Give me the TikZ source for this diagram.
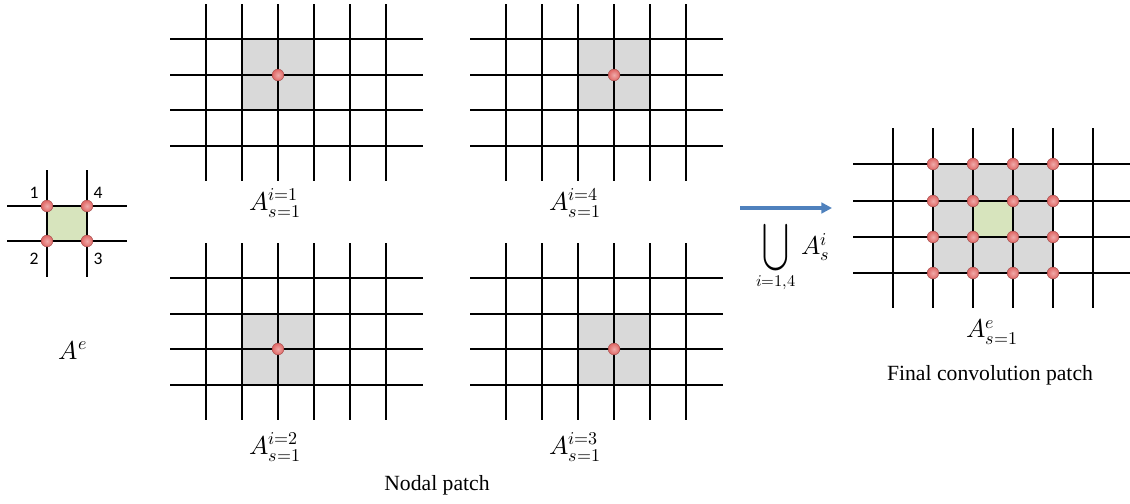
\documentclass[tikz,border=0pt]{standalone}
\usepackage{fontspec}
\usepackage{unicode-math}
\setmainfont{Liberation Serif}
\newfontfamily\numfont{Carlito}
\usepackage{tikz}
\usetikzlibrary{arrows.meta}
\definecolor{cellgray}{HTML}{D9D9D9}
\definecolor{cellgreen}{HTML}{D7E4BD}
\definecolor{dotred}{HTML}{E06664}
\definecolor{arrowblue}{HTML}{4F81BD}

\begin{document}
\begin{tikzpicture}[x=0.03cm,y=-0.03cm,
  gridline/.style={line width=1.6pt,black},
  nodedot/.style={circle,inner sep=0pt,minimum size=10pt,shading=radial,inner color=dotred!55!white,outer color=dotred,draw=dotred!75!black,line width=.4pt},
  mathlab/.style={font=\fontsize{22}{26}\selectfont},
  textlab/.style={font=\fontsize{18.5}{22}\selectfont},
  numlab/.style={font=\fontsize{15}{18}\selectfont\numfont}]
  \useasboundingbox (0,0) rectangle (1130,503);
  % single element
  \fill[cellgreen] (47,206) rectangle (87,241);
  \foreach \y in {206,241} \draw[gridline] (7,\y)--(127,\y);
  \foreach \x in {47,87} \draw[gridline] (\x,170)--(\x,277);
  \foreach \x/\y/\n in {47/206/1,87/206/4,47/241/2,87/241/3}
    \node[nodedot] (elem\n) at (\x,\y) {};
  \node[numlab] (num1) at (34,193) {1}; \node[numlab] (num4) at (98,193) {4};
  \node[numlab] (num2) at (34,259) {2}; \node[numlab] (num3) at (98,259) {3};
  \node[mathlab] (lab-e) at (73,350) {$A^{e}$};
  % nodal patches
  \foreach \px/\py/\dc/\dr/\n/\ly in {170/4/3/2/1/203,170/243/3/3/2/447,470/4/4/2/4/203,470/243/4/3/3/447}{
    \fill[cellgray] ({\px+36*\dc-36},{\py+int(35.5*\dr-35.5)}) rectangle ({\px+36*\dc+36},{\py+int(35.5*\dr+35.5)});
    \foreach \r in {1,...,4} \draw[gridline] (\px,{\py+int(35.5*\r)})--({\px+253},{\py+int(35.5*\r)});
    \foreach \c in {1,...,6} \draw[gridline] ({\px+36*\c},\py)--({\px+36*\c},{\py+177});
    \node[nodedot] (dot\n) at ({\px+36*\dc},{\py+int(35.5*\dr)}) {};
    \node[mathlab] (lab\n) at ({\px+105},\ly) {$A^{i=\n}_{s=1}$};}
  \node[textlab] (nodal) at (437,485) {Nodal patch};
  % union arrow
  \coordinate (arrowstart) at (740,208); \coordinate (arrowend) at (832,208);
  \draw[arrowblue,line width=3pt,-{Triangle[length=9pt,width=9pt]}] (arrowstart)--(arrowend);
  \node[inner sep=0pt] (cup) at (776,248) {\resizebox*{0.8cm}{1.4cm}{$\bigcup$}};
  \node[font=\fontsize{14}{17}\selectfont,inner sep=0pt] (cupsub) at (776,283) {$i{=}1{,}4$};
  \node[mathlab,anchor=west,inner sep=0pt] (cupterm) at (801,247) {$A^{i}_{s}$};
  % final patch
  \fill[cellgray] (933,164) rectangle (1053,273);
  \fill[cellgreen] (973,201) rectangle (1013,237);
  \foreach \y in {164,201,237,273} \draw[gridline] (853,\y)--(1130,\y);
  \foreach \x in {893,933,973,1013,1053,1093} \draw[gridline] (\x,128)--(\x,308);
  \foreach \x in {933,973,1013,1053}
    \foreach \y in {164,201,237,273} \node[nodedot] (fin-\x-\y) at (\x,\y) {};
  \node[mathlab] (lab-final) at (992,332) {$A^{e}_{s=1}$};
  \node[textlab] (final) at (990,375) {Final convolution patch};
\end{tikzpicture}
\end{document}
